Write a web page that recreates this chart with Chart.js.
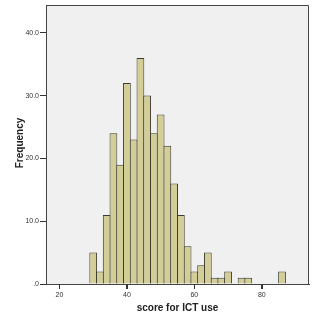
<!DOCTYPE html>
<html>
<head>
<meta charset="utf-8">
<script src="https://cdn.jsdelivr.net/npm/chart.js@4"></script>
<style>
  html, body { margin: 0; padding: 0; background: #fff; }
  #wrap { width: 312px; height: 313px; }
</style>
</head>
<body>
<div id="wrap"><canvas id="histograma"></canvas></div>
<script>
// centros das classes (largura 2) e frequências
const centros = [30, 32, 34, 36, 38, 40, 42, 44, 46, 48, 50, 52, 54, 56, 58,
                 60, 62, 64, 66, 68, 70, 72, 74, 76, 78, 80, 82, 84, 86];
const frequencias = [5, 2, 11, 24, 19, 32, 23, 36, 30, 24, 27, 22, 16, 11, 6,
                     2, 3, 5, 1, 1, 2, 0, 1, 1, 0, 0, 0, 0, 2];
const ticksX = [20, 40, 60, 80];
const ticksY = [0, 10, 20, 30, 40];
const rotulosY = ['.0', '10.0', '20.0', '30.0', '40.0'];

const tituloX = 'score for ICT use';
const tituloY = 'Frequency';

// fundo cinza, moldura de cima e da direita, marcas do eixo x, títulos
const molduraPlugin = {
  id: 'moldura',
  beforeDraw(chart) {
    const { ctx, chartArea: a } = chart;
    ctx.save();
    ctx.fillStyle = '#f0f0f0';
    ctx.fillRect(a.left, a.top, a.right - a.left, a.bottom - a.top);
    ctx.restore();
  },
  afterDraw(chart) {
    const { ctx, chartArea: a } = chart;
    const escalaX = chart.scales.x;
    const t = Math.round(a.top) + 0.5;
    const r = Math.round(a.right) - 0.5;
    ctx.save();
    ctx.strokeStyle = '#444';
    ctx.lineWidth = 1;
    ctx.beginPath();
    ctx.moveTo(a.left, t);
    ctx.lineTo(r, t);
    ctx.lineTo(r, a.bottom);
    ctx.stroke();

    ctx.fillStyle = '#333';
    ticksX.forEach(v => {
      const px = Math.round(escalaX.getPixelForValue(v));
      ctx.fillRect(px, Math.round(a.bottom), 1, 5);
    });

    ctx.fillStyle = '#222';
    ctx.font = 'bold 10px "Liberation Sans", Arial, sans-serif';
    ctx.textAlign = 'center';
    ctx.textBaseline = 'middle';
    ctx.fillText(tituloX, (a.left + a.right) / 2, 308);
    ctx.translate(20, 143);
    ctx.rotate(-Math.PI / 2);
    ctx.fillText(tituloY, 0, 0);
    ctx.restore();
  }
};

const fonteTicks = { family: '"Liberation Sans", Arial, sans-serif', size: 7 };

new Chart(document.getElementById('histograma'), {
  type: 'bar',
  data: {
    datasets: [{
      data: centros.map((c, i) => ({ x: c, y: frequencias[i] })),
      backgroundColor: '#d3ce97',
      borderColor: '#3c3c30',
      borderWidth: 1,
      borderSkipped: 'bottom',
      // barras se sobrepõem 1px para a divisória ficar com uma linha só
      barPercentage: 1.15,
      categoryPercentage: 1
    }]
  },
  options: {
    responsive: true,
    maintainAspectRatio: false,
    animation: false,
    layout: { padding: { left: 0, top: 5, right: 3, bottom: 0 } },
    plugins: {
      legend: { display: false },
      tooltip: { enabled: false }
    },
    scales: {
      x: {
        type: 'linear',
        offset: false,
        min: 16,
        max: 94,
        afterBuildTicks: (s) => { s.ticks = ticksX.map(v => ({ value: v })); },
        afterFit: (s) => { s.height = 29; },
        grid: {
          display: true, offset: false, drawOnChartArea: false, drawTicks: true,
          tickLength: 5, tickWidth: 1, tickColor: '#333', color: '#333', lineWidth: 1
        },
        border: { display: true, color: '#444' },
        ticks: { color: '#333', font: fonteTicks, padding: 2, maxRotation: 0 }
      },
      y: {
        min: 0,
        max: 44.4,
        afterBuildTicks: (s) => { s.ticks = ticksY.map(v => ({ value: v })); },
        afterFit: (s) => { s.width = 46; },
        grid: {
          display: true, offset: false, drawOnChartArea: false, drawTicks: true,
          tickLength: 6, tickWidth: 1, tickColor: '#333', color: '#333', lineWidth: 1
        },
        border: { display: true, color: '#444' },
        ticks: {
          color: '#333',
          font: fonteTicks,
          padding: 1,
          callback: (v) => rotulosY[ticksY.indexOf(v)]
        }
      }
    }
  },
  plugins: [molduraPlugin]
});
</script>
</body>
</html>
